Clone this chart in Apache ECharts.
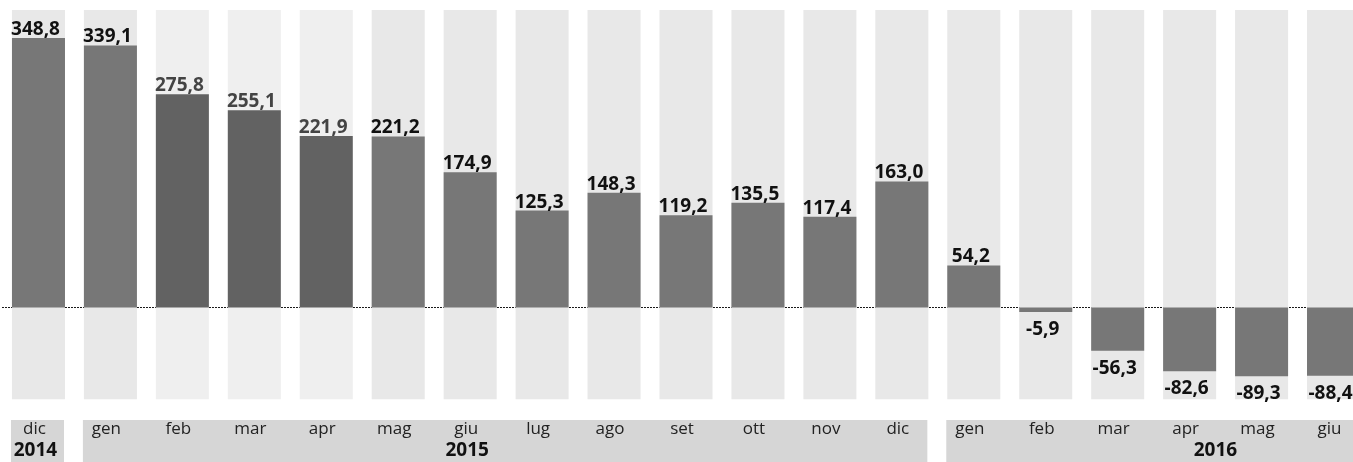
<!DOCTYPE html>
<html><head><meta charset="utf-8">
<script src="https://cdn.jsdelivr.net/npm/echarts@6/dist/echarts.min.js"></script>
<style>html,body{margin:0;padding:0;background:#fff}#c{width:1353px;height:462px}</style>
</head><body><div id="c"></div>
<script>
// ---- data ----
const months = ['dic','gen','feb','mar','apr','mag','giu','lug','ago','set','ott','nov','dic','gen','feb','mar','apr','mag','giu'];
const values = [348.8,339.1,275.8,255.1,221.9,221.2,174.9,125.3,148.3,119.2,135.5,117.4,163.0,54.2,-5.9,-56.3,-82.6,-89.3,-88.4];
const highlighted = [2,3,4];            // feb–apr 2015 drawn with a different shading
const years = ['2014','2015','2016'];
const yearFirst = [0,1,13];             // first category index of each year
const yearLast = [0,12,18];             // last category index of each year
const yearLabelAt = [0,6,16.4];         // category index where the year label sits

// ---- style ----
const BAR_RATIO = 0.737;
const FONT = 'Open Sans';
const fmt = v => v.toFixed(1).replace('.', ',');

const chart = echarts.init(document.getElementById('c'), null, {renderer:'canvas'});

const barData = values.map((v,i) => ({
  value: v,
  itemStyle: {color: highlighted.includes(i) ? '#626262' : '#777777'},
  label: {
    position: v < 0 ? 'bottom' : 'top',
    distance: v < 0 ? 8 : -1,
    color: highlighted.includes(i) ? '#444' : '#111'
  }
}));

const option = {
  animation: false,
  grid: [
    {left: 2.5, right: -16.5, top: 10, height: 389.3, outerBoundsMode: 'none', containLabel: false},
    {left: 2.5, right: -16.5, top: 420, height: 42, outerBoundsMode: 'none', containLabel: false}
  ],
  xAxis: [
    {type:'category', data: months, gridIndex: 0,
     axisLine: {onZero: true, lineStyle: {color:'#000', width: 1, type: [1,2]}},
     axisTick: {show:false}, axisLabel: {show:false}, splitLine:{show:false}},
    {type:'category', data: months, gridIndex: 1, position: 'top',
     axisLine: {show:false}, axisTick: {show:false},
     axisLabel: {inside: true, margin: 1, fontSize: 17, color: '#222', fontFamily: FONT, padding: [0,8,0,0]}}
  ],
  yAxis: [
    {type:'value', min: -119, max: 385, gridIndex: 0, show: false},
    {type:'value', min: 0, max: 1, gridIndex: 1, show: false}
  ],
  series: [
    { // light background columns
      type: 'custom', xAxisIndex: 0, yAxisIndex: 0, z: 1, silent: true,
      data: months.map((m,i) => [i, 0]),
      renderItem: function(params, api) {
        const idx = api.value(0);
        const c = api.coord([idx, 0]);
        const w = api.size([1, 0])[0] * BAR_RATIO;
        const cs = params.coordSys;
        return {type:'rect', shape:{x: c[0]-w/2, y: cs.y, width: w, height: cs.height},
                style:{fill: highlighted.includes(idx) ? '#efefef' : '#e8e8e8'}};
      }
    },
    {
      type: 'bar', xAxisIndex: 0, yAxisIndex: 0, z: 3,
      barWidth: (BAR_RATIO*100) + '%',
      data: barData,
      label: {show: true, offset: [-3, 0], fontFamily: FONT, fontWeight: 'bold', fontSize: 19,
              formatter: p => fmt(p.value)}
    },
    { // year bands under the month labels
      type: 'custom', xAxisIndex: 1, yAxisIndex: 1, z: 0, silent: true,
      encode: {x: 0, y: 1},
      data: years.map((y,i) => [yearFirst[i], 0, yearLast[i], yearLabelAt[i]]),
      renderItem: function(params, api) {
        const first = api.value(0), last = api.value(2), at = api.value(3);
        const bw = api.size([1, 0])[0];
        const w = bw * BAR_RATIO;
        const x0 = api.coord([first, 0])[0] - w/2;
        const x1 = api.coord([last, 0])[0] + w/2;
        const xl = api.coord([0, 0])[0] + at * bw;
        const cs = params.coordSys;
        return {type:'group', children:[
          {type:'rect', shape:{x:x0 - 1, y:cs.y, width:x1-x0, height:cs.height}, style:{fill:'#d6d6d6'}},
          {type:'text', z2: 10, style:{text: years[params.dataIndex], x: xl - 3, y: cs.y + 31,
             align:'center', verticalAlign:'middle', font: 'bold 19px "' + FONT + '"', fill:'#111'}}
        ]};
      }
    }
  ]
};
chart.setOption(option);
</script></body></html>
